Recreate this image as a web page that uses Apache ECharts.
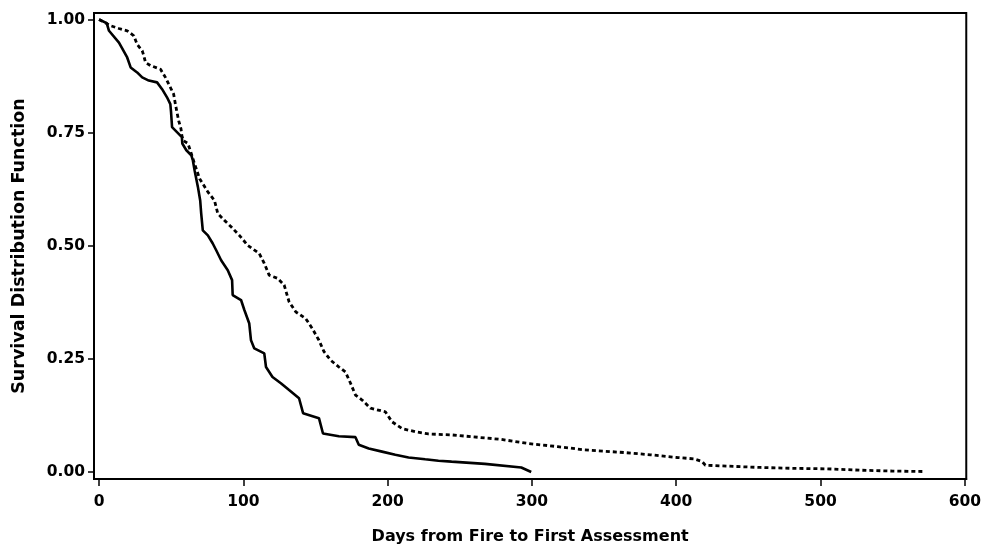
<!DOCTYPE html>
<html>
<head>
<meta charset="utf-8">
<script src="https://cdn.jsdelivr.net/npm/echarts@6/dist/echarts.min.js"></script>
<style>
html, body { margin: 0; padding: 0; background: #fff; }
#chart { width: 984px; height: 551px; }
</style>
</head>
<body>
<div id="chart"></div>
<script>
const xTicks = [0, 100, 200, 300, 400, 500, 600]
const yTicks = [0, 0.25, 0.5, 0.75, 1]

// solid curve
const solidDays = [0, 5.3, 6.9, 13.8, 19.5, 21.9, 26.4, 29.9, 34.5, 40.2, 43.7, 47.1, 49.4, 49.9, 50.6, 54.0,
  57.4, 57.7, 60.5, 63.9, 65.0, 66.2, 68.5, 70.1, 70.8, 71.9, 75.4, 78.8, 81.2, 84.6, 89.2, 92.2, 92.6,
  98.4, 100.7, 104.1, 105.3, 107.6, 114.5, 115.7, 120.2, 126.0, 131.7, 138.6, 141.4, 152.4, 155.2, 166.2,
  177.7, 180.0, 186.9, 196.1, 205.3, 214.5, 226.0, 235.2, 244.3, 267.4, 292.6, 299.5]
const solidSurv = [1.0, 0.992, 0.975, 0.949, 0.916, 0.894, 0.883, 0.872, 0.865, 0.861, 0.846, 0.828, 0.813, 0.795, 0.762, 0.751,
  0.740, 0.726, 0.711, 0.700, 0.689, 0.667, 0.630, 0.600, 0.571, 0.534, 0.523, 0.505, 0.490, 0.468, 0.446, 0.424, 0.391,
  0.380, 0.358, 0.328, 0.291, 0.273, 0.262, 0.232, 0.210, 0.196, 0.181, 0.163, 0.130, 0.119, 0.085, 0.079,
  0.077, 0.060, 0.052, 0.045, 0.038, 0.032, 0.028, 0.025, 0.023, 0.018, 0.010, 0.0]

// dotted curve
const dottedDays = [0, 8.1, 13.8, 19.5, 24.1, 26.4, 29.9, 31.0, 32.2, 35.7, 42.6, 46.0, 48.3, 51.7, 52.9, 54.0,
  55.2, 56.8, 57.4, 58.6, 61.6, 63.9, 66.2, 69.7, 75.4, 80.0, 82.3, 86.9, 91.5, 97.2, 103.0, 111.0, 114.5,
  117.9, 123.7, 128.3, 131.7, 136.3, 143.2, 147.8, 152.4, 155.9, 160.5, 166.2, 170.8, 174.3, 177.7, 182.3,
  188.1, 198.4, 203.0, 209.9, 219.1, 228.3, 244.3, 278.8, 297.2, 317.9, 336.3, 363.9, 382.3, 400.7, 412.2,
  417.9, 420.2, 435.2, 458.1, 481.2, 504.1, 527.1, 550.1, 571.9]
const dottedSurv = [1.0, 0.986, 0.980, 0.975, 0.964, 0.945, 0.931, 0.920, 0.905, 0.898, 0.890, 0.872, 0.857, 0.835, 0.813, 0.795,
  0.776, 0.758, 0.743, 0.732, 0.726, 0.704, 0.681, 0.648, 0.619, 0.600, 0.571, 0.556, 0.542, 0.523, 0.501, 0.483, 0.461,
  0.435, 0.428, 0.413, 0.376, 0.354, 0.339, 0.317, 0.291, 0.266, 0.247, 0.232, 0.221, 0.196, 0.170, 0.159,
  0.141, 0.133, 0.111, 0.096, 0.089, 0.084, 0.082, 0.072, 0.063, 0.056, 0.049, 0.043, 0.038, 0.032, 0.029,
  0.023, 0.015, 0.013, 0.010, 0.008, 0.007, 0.004, 0.002, 0.001]

const pairs = (xs, ys) => xs.map((x, i) => [x, ys[i]])

const font = 'DejaVu Sans'

const chart = echarts.init(document.getElementById('chart'))
chart.setOption({
  animation: false,
  backgroundColor: '#fff',
  grid: {
    left: 94,
    right: 15,
    top: 13,
    bottom: 72,
    show: true,
    borderColor: '#000',
    borderWidth: 2
  },
  xAxis: {
    type: 'value',
    min: -3.5,
    max: 601,
    name: 'Days from Fire to First Assessment',
    nameLocation: 'middle',
    nameGap: 50,
    nameTextStyle: { color: '#000', fontFamily: font, fontWeight: 'bold', fontSize: 16 },
    axisLine: { show: true, onZero: false, lineStyle: { color: '#000', width: 2 } },
    axisTick: { show: true, customValues: xTicks, inside: false, length: 7, lineStyle: { color: '#000', width: 1.5 } },
    axisLabel: {
      customValues: xTicks,
      margin: 15,
      color: '#000',
      fontFamily: font,
      fontWeight: 'bold',
      fontSize: 15.5
    },
    splitLine: { show: false }
  },
  yAxis: {
    type: 'value',
    min: -0.0155,
    max: 1.0143,
    name: 'Survival Distribution Function',
    nameLocation: 'middle',
    nameGap: 66,
    nameTextStyle: { color: '#000', fontFamily: font, fontWeight: 'bold', fontSize: 17.5 },
    axisLine: { show: true, onZero: false, lineStyle: { color: '#000', width: 2 } },
    axisTick: { show: true, customValues: yTicks, length: 6, lineStyle: { color: '#000', width: 1.5 } },
    axisLabel: {
      customValues: yTicks,
      margin: 9,
      color: '#000',
      fontFamily: font,
      fontWeight: 'bold',
      fontSize: 15.5,
      formatter: v => v.toFixed(2)
    },
    splitLine: { show: false }
  },
  series: [
    {
      type: 'line',
      data: pairs(solidDays, solidSurv),
      showSymbol: false,
      lineStyle: { color: '#000', width: 2.6 }
    },
    {
      type: 'line',
      data: pairs(dottedDays, dottedSurv),
      showSymbol: false,
      lineStyle: { color: '#000', width: 2.8, type: [4, 3] }
    }
  ]
})
</script>
</body>
</html>
